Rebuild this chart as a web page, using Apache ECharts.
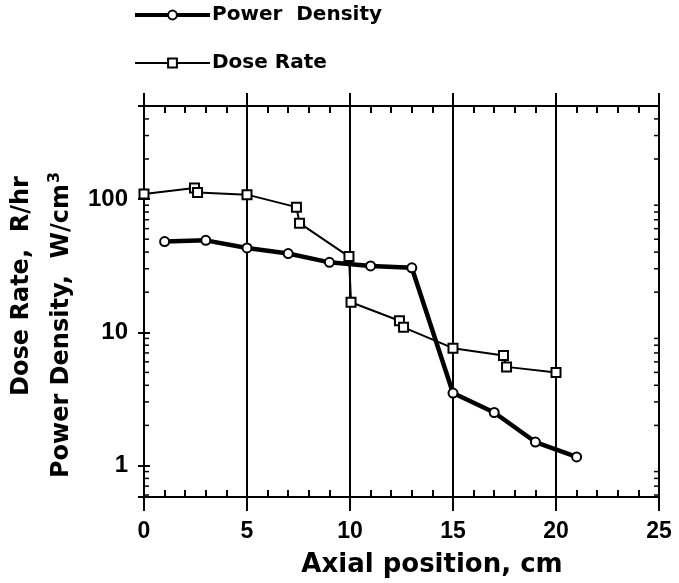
<!DOCTYPE html>
<html>
<head>
<meta charset="utf-8">
<script src="https://cdn.jsdelivr.net/npm/echarts@6/dist/echarts.min.js"></script>
<style>
  html, body { margin: 0; padding: 0; background: #fff; }
  #chart { width: 679px; height: 583px; }
</style>
</head>
<body>
<div id="chart"></div>
<script>
// power density (circles, heavy line)
const powerX = [1, 3, 5, 7, 9, 11, 13, 15, 17, 19, 21];
const powerY = [48, 49, 43, 39, 33.5, 31.5, 30.5, 3.5, 2.5, 1.5, 1.16];

// dose rate (squares, thin line) - paired points at the step edges
const doseX = [0, 2.45, 2.6, 5, 7.4, 7.55, 9.95, 10.05, 12.4, 12.6, 15, 17.45, 17.6, 20];
const doseY = [109, 121, 112, 108, 87, 66, 37, 16.8, 12.2, 10.9, 7.6, 6.7, 5.5, 5.0];

// log minor tick positions on the y axis
const minorTicks = [0.6, 0.7, 0.8, 0.9, 2, 3, 4, 5, 6, 7, 8, 9, 20, 30, 40, 50, 60, 70, 80, 90, 200, 300, 400];

const black = '#000';
const tickFont = 'Liberation Sans';
const textFont = 'DejaVu Sans';

const chart = echarts.init(document.getElementById('chart'));

const xBase = {
  type: 'value',
  min: 0,
  max: 25,
  axisLine: { show: false },
  axisLabel: { show: false },
  splitLine: { show: false },
  axisTick: { show: true, inside: true, length: 7, lineStyle: { color: black, width: 2 } },
  interval: 1,
};

const options = {
  backgroundColor: '#fff',
  animation: false,
  grid: { left: 144, right: 20, top: 106, bottom: 84 },
  legend: {
    orient: 'vertical',
    left: 133,
    top: 5,
    padding: 0,
    itemWidth: 75,
    itemHeight: 11,
    itemGap: 28,
    data: [
      { name: 'Power  Density', lineStyle: { width: 4 } },
      { name: 'Dose Rate', lineStyle: { width: 2 } },
    ],
    textStyle: { fontFamily: textFont, fontWeight: 'bold', fontSize: 20, color: black, padding: [0, 0, 0, -3] },
  },
  xAxis: [
    {
      type: 'value',
      min: 0,
      max: 25,
      interval: 5,
      position: 'bottom',
      axisLine: { show: true, lineStyle: { color: black, width: 2 } },
      axisTick: { show: true, inside: false, length: 14, lineStyle: { color: black, width: 2 } },
      axisLabel: { fontFamily: tickFont, fontWeight: 'bold', fontSize: 23, color: black, margin: 23 },
      splitLine: { show: true, lineStyle: { color: black, width: 2 } },
      name: 'Axial position, cm',
      nameLocation: 'middle',
      nameGap: 55,
      nameTextStyle: { fontFamily: textFont, fontWeight: 'bold', fontSize: 26, color: black, padding: [0, 0, 0, 61] },
    },
    Object.assign({}, xBase, { position: 'bottom' }),
    {
      type: 'value',
      min: 0,
      max: 25,
      interval: 5,
      position: 'top',
      axisLine: { show: true, lineStyle: { color: black, width: 2 } },
      axisTick: { show: true, inside: false, length: 13, lineStyle: { color: black, width: 2 } },
      axisLabel: { show: false },
      splitLine: { show: false },
    },
    Object.assign({}, xBase, { position: 'top' }),
  ],
  yAxis: [
    {
      type: 'log',
      min: 0.58,
      max: 500,
      position: 'left',
      axisLine: { show: true, lineStyle: { color: black, width: 2 } },
      axisTick: { show: true, inside: true, length: 6, lineStyle: { color: black, width: 2 } },
      axisLabel: {
        fontFamily: tickFont, fontWeight: 'bold', fontSize: 24, color: black, margin: 16,
        showMinLabel: false, showMaxLabel: false,
      },
      splitLine: { show: false },
    },
    {
      type: 'log',
      min: 0.58,
      max: 500,
      position: 'right',
      axisLine: { show: true, lineStyle: { color: black, width: 2 } },
      axisTick: { show: true, inside: true, length: 6, lineStyle: { color: black, width: 2 } },
      axisLabel: { show: false },
      splitLine: { show: false },
    },
  ],
  graphic: [
    {
      type: 'text',
      x: 22,
      y: 286,
      rotation: Math.PI / 2,
      style: {
        text: 'Dose Rate,  R/hr',
        fontFamily: textFont, fontWeight: 'bold', fontSize: 24, fill: black,
        align: 'center', verticalAlign: 'middle',
      },
    },
    {
      type: 'text',
      x: 62,
      y: 325,
      rotation: Math.PI / 2,
      style: {
        text: 'Power Density,  W/cm{sup|3}',
        fontFamily: textFont, fontWeight: 'bold', fontSize: 24, fill: black,
        align: 'center', verticalAlign: 'middle',
        rich: { sup: { fontFamily: textFont, fontWeight: 'bold', fontSize: 16, fill: black, verticalAlign: 'top', padding: [0, 0, 14, 1] } },
      },
    },
  ],
  series: [
    {
      name: 'Power  Density',
      type: 'line',
      xAxisIndex: 0,
      yAxisIndex: 0,
      data: powerX.map((x, i) => [x, powerY[i]]),
      symbol: 'emptyCircle',
      symbolSize: 9,
      lineStyle: { color: black, width: 4.5 },
      itemStyle: { color: black, borderWidth: 2 },
      z: 4,
    },
    {
      name: 'Dose Rate',
      type: 'line',
      xAxisIndex: 0,
      yAxisIndex: 0,
      data: doseX.map((x, i) => [x, doseY[i]]),
      symbol: 'emptyRect',
      symbolSize: 9,
      lineStyle: { color: black, width: 2 },
      itemStyle: { color: black, borderWidth: 1.5 },
      z: 3,
    },
    {
      // small inward log ticks on the left and right frame
      type: 'custom',
      xAxisIndex: 0,
      yAxisIndex: 0,
      silent: true,
      data: minorTicks.map((v) => [0, v]),
      renderItem: (params, api) => {
        const v = api.value(1);
        const l = api.coord([0, v]);
        const r = api.coord([25, v]);
        return {
          type: 'group',
          children: [
            { type: 'line', shape: { x1: l[0], y1: l[1], x2: l[0] + 5, y2: l[1] }, style: { stroke: black, lineWidth: 1.5 } },
            { type: 'line', shape: { x1: r[0] - 5, y1: r[1], x2: r[0], y2: r[1] }, style: { stroke: black, lineWidth: 1.5 } },
          ],
        };
      },
    },
  ],
};

chart.setOption(options);
</script>
</body>
</html>
